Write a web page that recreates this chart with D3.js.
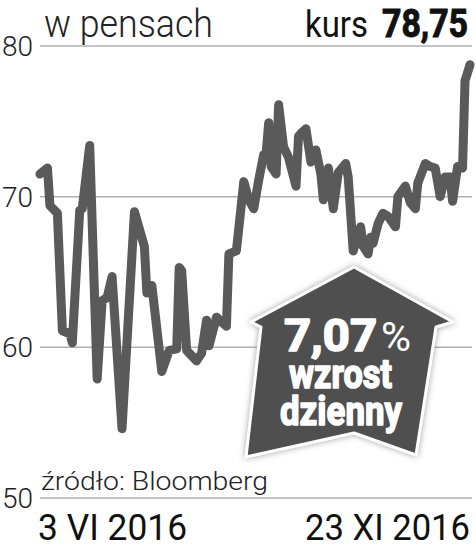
<!DOCTYPE html>
<html>
<head>
<meta charset="utf-8">
<script src="https://cdn.jsdelivr.net/npm/d3@7"></script>
<style>
  html, body { margin: 0; padding: 0; background: #fff; }
  svg { display: block; font-family: Roboto, sans-serif; }
</style>
</head>
<body>
<div class="app"></div>
<script>
// dni od 3 VI 2016 i kurs w pensach
const days = [0, 3, 4, 7, 9, 12, 13, 16, 17, 20, 23, 25, 27, 29, 33, 38, 42, 43, 45, 49,
  52, 55, 56, 57, 59, 63, 65, 67, 68, 71, 75, 76, 79, 82, 84, 86, 88, 90, 91, 92,
  93, 95, 96, 98, 100, 103, 104, 105, 107, 109, 111, 113, 114, 116, 118, 120, 123, 124, 126, 129,
  130, 132, 133, 134, 136, 138, 140, 143, 144, 147, 149, 151, 152, 155, 157, 159, 161, 163, 165, 166,
  168, 170, 171, 173]
const prices = [71.5, 71.9, 69.4, 68.9, 61.1, 60.9, 60.3, 69.1, 69.2, 73.4, 57.9, 63.1, 63.3, 64.7, 54.6, 69.0, 66.7, 63.6, 64.1, 58.4,
  59.8, 59.9, 65.3, 65.1, 59.8, 59.1, 59.6, 61.8, 60.1, 62.0, 61.4, 66.2, 66.4, 71.0, 69.8, 69.2, 71.1, 72.8, 72.9, 74.9,
  72.0, 71.5, 76.1, 73.3, 72.6, 70.7, 74.0, 74.2, 74.5, 72.3, 73.1, 71.5, 69.8, 71.9, 69.2, 71.6, 72.2, 71.3, 66.4, 68.0,
  66.7, 66.2, 67.3, 66.9, 68.2, 68.9, 68.7, 68.0, 70.0, 70.7, 69.6, 69.2, 70.9, 72.2, 72.0, 71.9, 70.0, 71.3, 71.3, 69.7,
  72.0, 71.9, 77.7, 78.75]
const yTicks = [50, 60, 70, 80]
const dateLabels = ['3 VI 2016', '23 XI 2016']

const W = 476, H = 549
const lineColor = '#5a5a5a'

const svg = d3.select('.app').append('svg').attr('width', W).attr('height', H)

const defs = svg.append('defs')
const glow = defs.append('filter').attr('id', 'glow')
  .attr('x', '-20%').attr('y', '-20%').attr('width', '140%').attr('height', '140%')
glow.append('feDropShadow').attr('dx', 0).attr('dy', 0).attr('stdDeviation', 3)
  .attr('flood-color', '#888').attr('flood-opacity', 0.8)

const x = d3.scaleLinear().domain([0, 173]).range([40, 470])
const y = d3.scaleLinear().domain([50, 80]).range([498, 46])

// linie siatki
svg.selectAll('line.grid').data(yTicks).enter().append('line')
  .attr('class', 'grid')
  .attr('x1', 40).attr('x2', 472)
  .attr('y1', d => y(d)).attr('y2', d => y(d))
  .attr('stroke', '#b0b0b0').attr('stroke-width', 1.5)

svg.selectAll('text.tick').data(yTicks).enter().append('text')
  .attr('class', 'tick')
  .attr('x', 33).attr('y', d => y(d) + 10)
  .attr('text-anchor', 'end')
  .attr('font-size', 28).attr('font-weight', 300)
  .attr('fill', '#222')
  .text(d => d)

const points = days.map((d, i) => [x(d), y(prices[i])])
svg.append('path')
  .attr('d', d3.line()(points))
  .attr('fill', 'none')
  .attr('stroke', lineColor)
  .attr('stroke-width', 9)
  .attr('stroke-linejoin', 'round')
  .attr('stroke-linecap', 'round')

// strzałka
const arrow = [[354, 267], [453, 322], [436, 327], [416, 455], [354, 433], [246, 457], [261, 327], [251, 322]]
svg.append('path')
  .attr('d', d3.line()(arrow) + 'Z')
  .attr('fill', '#505050')
  .attr('stroke', '#fff').attr('stroke-width', 3)
  .attr('stroke-linejoin', 'round')
  .attr('filter', 'url(#glow)')

const txt = (s, x0, yb, size, weight, len) => svg.append('text')
  .attr('x', x0).attr('y', yb)
  .attr('font-size', size).attr('font-weight', weight)
  .attr('textLength', len).attr('lengthAdjust', 'spacingAndGlyphs')
  .text(s)

const heavy = t => t.attr('fill', '#fff').attr('stroke', '#fff').attr('stroke-width', 1.6)
  .attr('stroke-linejoin', 'round')

heavy(txt('7,07', 284, 351, 44, 700, 93))
txt('%', 381, 351, 40, 400, 30).attr('fill', '#fff')
heavy(txt('wzrost', 289, 388, 40, 700, 103))
heavy(txt('dzienny', 280, 425, 40, 700, 122))

// nagłówek
txt('w pensach', 44, 37, 38, 300, 169).attr('fill', '#222')
txt('kurs', 305, 37, 36, 400, 63).attr('fill', '#111')
txt('78,75', 382, 37, 38, 700, 86).attr('fill', '#111')
  .attr('stroke', '#111').attr('stroke-width', 1)

txt('źródło: Bloomberg', 41, 490, 26, 300, 227).attr('fill', '#222')
txt(dateLabels[0], 38, 540, 37, 400, 149).attr('fill', '#111')
txt(dateLabels[1], 305, 540, 37, 400, 165).attr('fill', '#111')
</script>
</body>
</html>
